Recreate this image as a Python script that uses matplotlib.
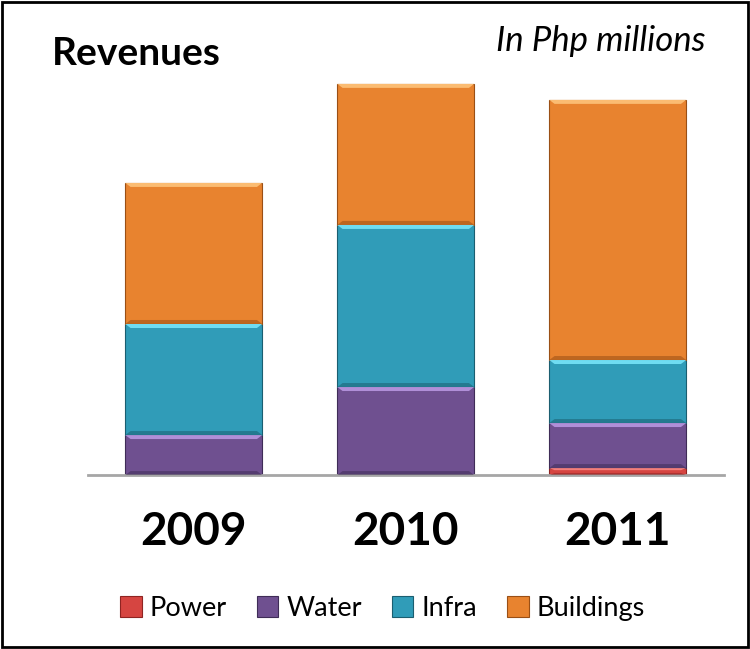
import matplotlib
matplotlib.use("Agg")
import matplotlib.pyplot as plt
from matplotlib.patches import Polygon, Rectangle
import numpy as np

plt.rcParams['font.family'] = ['Lato', 'DejaVu Sans']

# values (relative units, no axis shown)
years = ["2009", "2010", "2011"]
segments = ["Power", "Water", "Infra", "Buildings"]
power = [0, 0, 7]
water = [40, 88, 45]
infra = [111, 162, 63]
buildings = [141, 141, 260]

colors = {"Power": "#d64541", "Water": "#6f5090", "Infra": "#309cb8", "Buildings": "#e8832f"}
lights = {"Power": "#f47f7c", "Water": "#b08fd8", "Infra": "#6fdcf2", "Buildings": "#fbbc72"}
darks = {"Power": "#8f2422", "Water": "#3f2c57", "Infra": "#1b5e70", "Buildings": "#9a4f15"}

fig = plt.figure(figsize=(7.5, 6.49), dpi=100)
fig.patches.append(Rectangle((0.003, 0.003), 0.994, 0.994, transform=fig.transFigure,
                             fill=False, edgecolor="black", lw=2))
ax = fig.add_axes([0.117, 0.268, 0.848, 0.686])

x = np.arange(len(years))
width = 0.646
bottom = np.zeros(len(years))
series = {"Power": power, "Water": water, "Infra": infra, "Buildings": buildings}
handles = []
for name in segments:
    vals = np.array(series[name], dtype=float)
    bars = ax.bar(x, vals, width, bottom=bottom, color=colors[name],
                  edgecolor=darks[name], linewidth=0.8, label=name, zorder=2)
    handles.append(bars)
    # bevel: light top strip and darker bottom strip
    for b in bars:
        if b.get_height() <= 0:
            continue
        x0, y0 = b.get_x(), b.get_y()
        w, h = b.get_width(), b.get_height()
        d = min(4.0, h * 0.3)
        dx = 0.025
        ax.add_patch(Polygon([(x0, y0 + h), (x0 + w, y0 + h), (x0 + w - dx, y0 + h - d),
                              (x0 + dx, y0 + h - d)], closed=True, color=lights[name],
                             lw=0, zorder=3))
        ax.add_patch(Polygon([(x0, y0), (x0 + w, y0), (x0 + w - dx, y0 + d),
                              (x0 + dx, y0 + d)], closed=True, color=darks[name],
                             alpha=0.55, lw=0, zorder=3))
    bottom += vals

ax.set_xlim(-0.5, 2.5)
ax.set_ylim(0, 445)
for s in ["top", "right", "left"]:
    ax.spines[s].set_visible(False)
ax.spines["bottom"].set_color("#a6a6a6")
ax.spines["bottom"].set_linewidth(2)
ax.set_yticks([])
ax.set_xticks(x)
ax.set_xticklabels(years, fontsize=33, fontweight="bold")
ax.tick_params(axis="x", length=0, pad=26)

fig.text(0.069, 0.918, "Revenues", fontsize=28, fontweight="bold", va="center", ha="left")
fig.text(0.941, 0.937, "In Php millions", fontsize=25, style="italic", va="center", ha="right")

fig.legend(handles=handles, labels=segments, loc="center", bbox_to_anchor=(0.51, 0.063),
           ncol=4, frameon=False, fontsize=19.5, handlelength=0.8, handleheight=0.8,
           handletextpad=0.3, columnspacing=1.1)

fig.savefig("out.png", dpi=100)
